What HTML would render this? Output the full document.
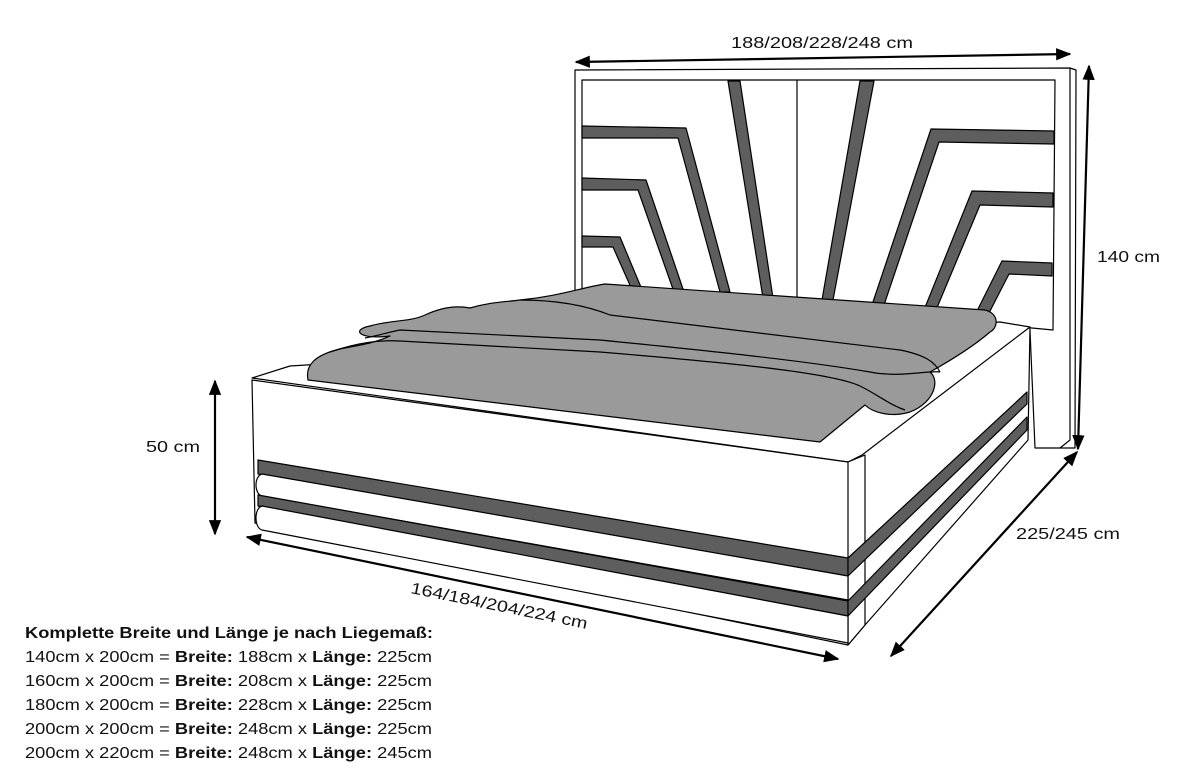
<!DOCTYPE html>
<html><head><meta charset="utf-8"><style>
html,body{margin:0;padding:0;background:#fff;width:1200px;height:780px;overflow:hidden}
svg{display:block}
text{font-family:"Liberation Sans",sans-serif;fill:#111}
</style></head><body>
<svg width="1200" height="780" viewBox="0 0 1200 780">
<defs>
<marker id="ah" viewBox="0 0 10 10" refX="9" refY="5" markerWidth="7" markerHeight="7" orient="auto-start-reverse"><path d="M0,1 L10,5 L0,9 z" fill="#000"/></marker>
</defs>
<g stroke="#000" stroke-width="1.2" stroke-linejoin="round">
<!-- headboard -->
<polygon points="575,70 1070,68 1076,70 1075,448 1060,448 1035,448 1030,330 575,300" fill="#fff"/>
<polyline points="1070,68 1070,440 1060,448" fill="none"/>
<polygon points="582,80 1055,80 1053,330 1000,325 582,300" fill="#fff"/>
<line x1="797" y1="80" x2="797" y2="300"/>
<!-- left stripes -->
<polygon points="582,126 686,128 730,292 720,292 678,138 582,138" fill="#5e5e5e"/>
<polygon points="582,178 646,180 684,292 674,292 638,190 582,190" fill="#5e5e5e"/>
<polygon points="582,236 620,237 643,292 633,292 613,247 582,247" fill="#5e5e5e"/>
<polygon points="728,81 740,81 773,298 763,298" fill="#5e5e5e"/>
<!-- right stripes -->
<polygon points="860,81 874,81 833,300 822,300" fill="#5e5e5e"/>
<polygon points="931,129 1054,131 1054,144 939,142 884,305 872,305" fill="#5e5e5e"/>
<polygon points="972,191 1053,193 1053,207 980,205 936,310 924,310" fill="#5e5e5e"/>
<polygon points="1002,261 1052,263 1052,276 1009,274 989,313 976,313" fill="#5e5e5e"/>
<!-- base side face -->
<polygon points="848,455 1030,327 1028,440 865,625 848,645" fill="#fff"/>
<!-- top rim -->
<polygon points="252,378 290,366 1000,322 1030,327 862,455 848,462" fill="#fff"/>
<!-- blanket -->
<path d="M308,380 C305,365 315,355 340,349 C360,345 375,343 390,336 C360,340 350,330 370,326 C390,320 410,322 425,315 C440,308 455,305 470,308 C490,302 505,302 520,300 C560,296 580,288 605,284 L985,310 C1000,314 998,328 990,332 C975,345 955,358 930,372 C940,380 935,402 910,412 C890,418 872,412 865,405 L820,442 Z" fill="#9a9a9a"/>
<path d="M365,338 C380,335 390,332 400,330 L600,340 C700,350 800,360 870,372 C900,378 930,370 940,372" fill="none"/>
<path d="M330,352 C360,342 380,340 400,341 L600,352 C720,362 830,372 860,386 C880,396 890,405 905,410" fill="none"/>
<path d="M520,300 C560,300 590,307 610,315 L900,350 C925,355 935,362 940,372" fill="none"/>
<!-- front face -->
<polygon points="252,380 848,462 865,455 865,625 848,645 255,523" fill="#fff"/>
<line x1="848" y1="462" x2="848" y2="645"/>
<!-- front stripes -->
<polygon points="258,460 848,558 848,576 258,474" fill="#5e5e5e"/>
<path d="M262,474 L848,576 L848,600 L262,496 C254,494 254,476 262,474 Z" fill="#fff"/>
<polygon points="258,495 848,601 848,616 258,506" fill="#5e5e5e"/>
<path d="M262,506 L848,616 L848,643 L262,530 C254,528 254,508 262,506 Z" fill="#fff"/>
<!-- side stripes -->
<polygon points="848,558 1027,392 1027,404 848,576" fill="#5e5e5e"/>
<polygon points="848,601 1027,417 1027,430 848,616" fill="#5e5e5e"/>
</g>
<!-- dimension arrows -->
<g stroke="#000" stroke-width="2.2" fill="none">
<line x1="576" y1="62" x2="1070" y2="54" marker-start="url(#ah)" marker-end="url(#ah)"/>
<line x1="1089" y1="66" x2="1078" y2="449" marker-start="url(#ah)" marker-end="url(#ah)"/>
<line x1="215" y1="381" x2="215" y2="534" marker-start="url(#ah)" marker-end="url(#ah)"/>
<line x1="247" y1="537" x2="838" y2="659" marker-start="url(#ah)" marker-end="url(#ah)"/>
<line x1="1077" y1="452" x2="891" y2="656" marker-start="url(#ah)" marker-end="url(#ah)"/>
</g>
<text x="822" y="48" font-size="16" text-anchor="middle" textLength="182" lengthAdjust="spacingAndGlyphs">188/208/228/248 cm</text>
<text x="1097" y="262" font-size="16" textLength="63" lengthAdjust="spacingAndGlyphs">140 cm</text>
<text x="146" y="452" font-size="16" textLength="54" lengthAdjust="spacingAndGlyphs">50 cm</text>
<text x="1016" y="539" font-size="16" textLength="104" lengthAdjust="spacingAndGlyphs">225/245 cm</text>
<text transform="translate(410,593) rotate(11.5)" font-size="16" textLength="180" lengthAdjust="spacingAndGlyphs">164/184/204/224 cm</text>
<!-- legend -->
<g font-size="16">
<text x="25" y="638" font-weight="bold" textLength="408" lengthAdjust="spacingAndGlyphs">Komplette Breite und Länge je nach Liegemaß:</text>
<text x="25" y="662" textLength="407" lengthAdjust="spacingAndGlyphs">140cm x 200cm = <tspan font-weight="bold">Breite:</tspan> 188cm x <tspan font-weight="bold">Länge:</tspan> 225cm</text>
<text x="25" y="686" textLength="407" lengthAdjust="spacingAndGlyphs">160cm x 200cm = <tspan font-weight="bold">Breite:</tspan> 208cm x <tspan font-weight="bold">Länge:</tspan> 225cm</text>
<text x="25" y="710" textLength="407" lengthAdjust="spacingAndGlyphs">180cm x 200cm = <tspan font-weight="bold">Breite:</tspan> 228cm x <tspan font-weight="bold">Länge:</tspan> 225cm</text>
<text x="25" y="734" textLength="407" lengthAdjust="spacingAndGlyphs">200cm x 200cm = <tspan font-weight="bold">Breite:</tspan> 248cm x <tspan font-weight="bold">Länge:</tspan> 225cm</text>
<text x="25" y="758" textLength="407" lengthAdjust="spacingAndGlyphs">200cm x 220cm = <tspan font-weight="bold">Breite:</tspan> 248cm x <tspan font-weight="bold">Länge:</tspan> 245cm</text>
</g>
</svg>
</body></html>
